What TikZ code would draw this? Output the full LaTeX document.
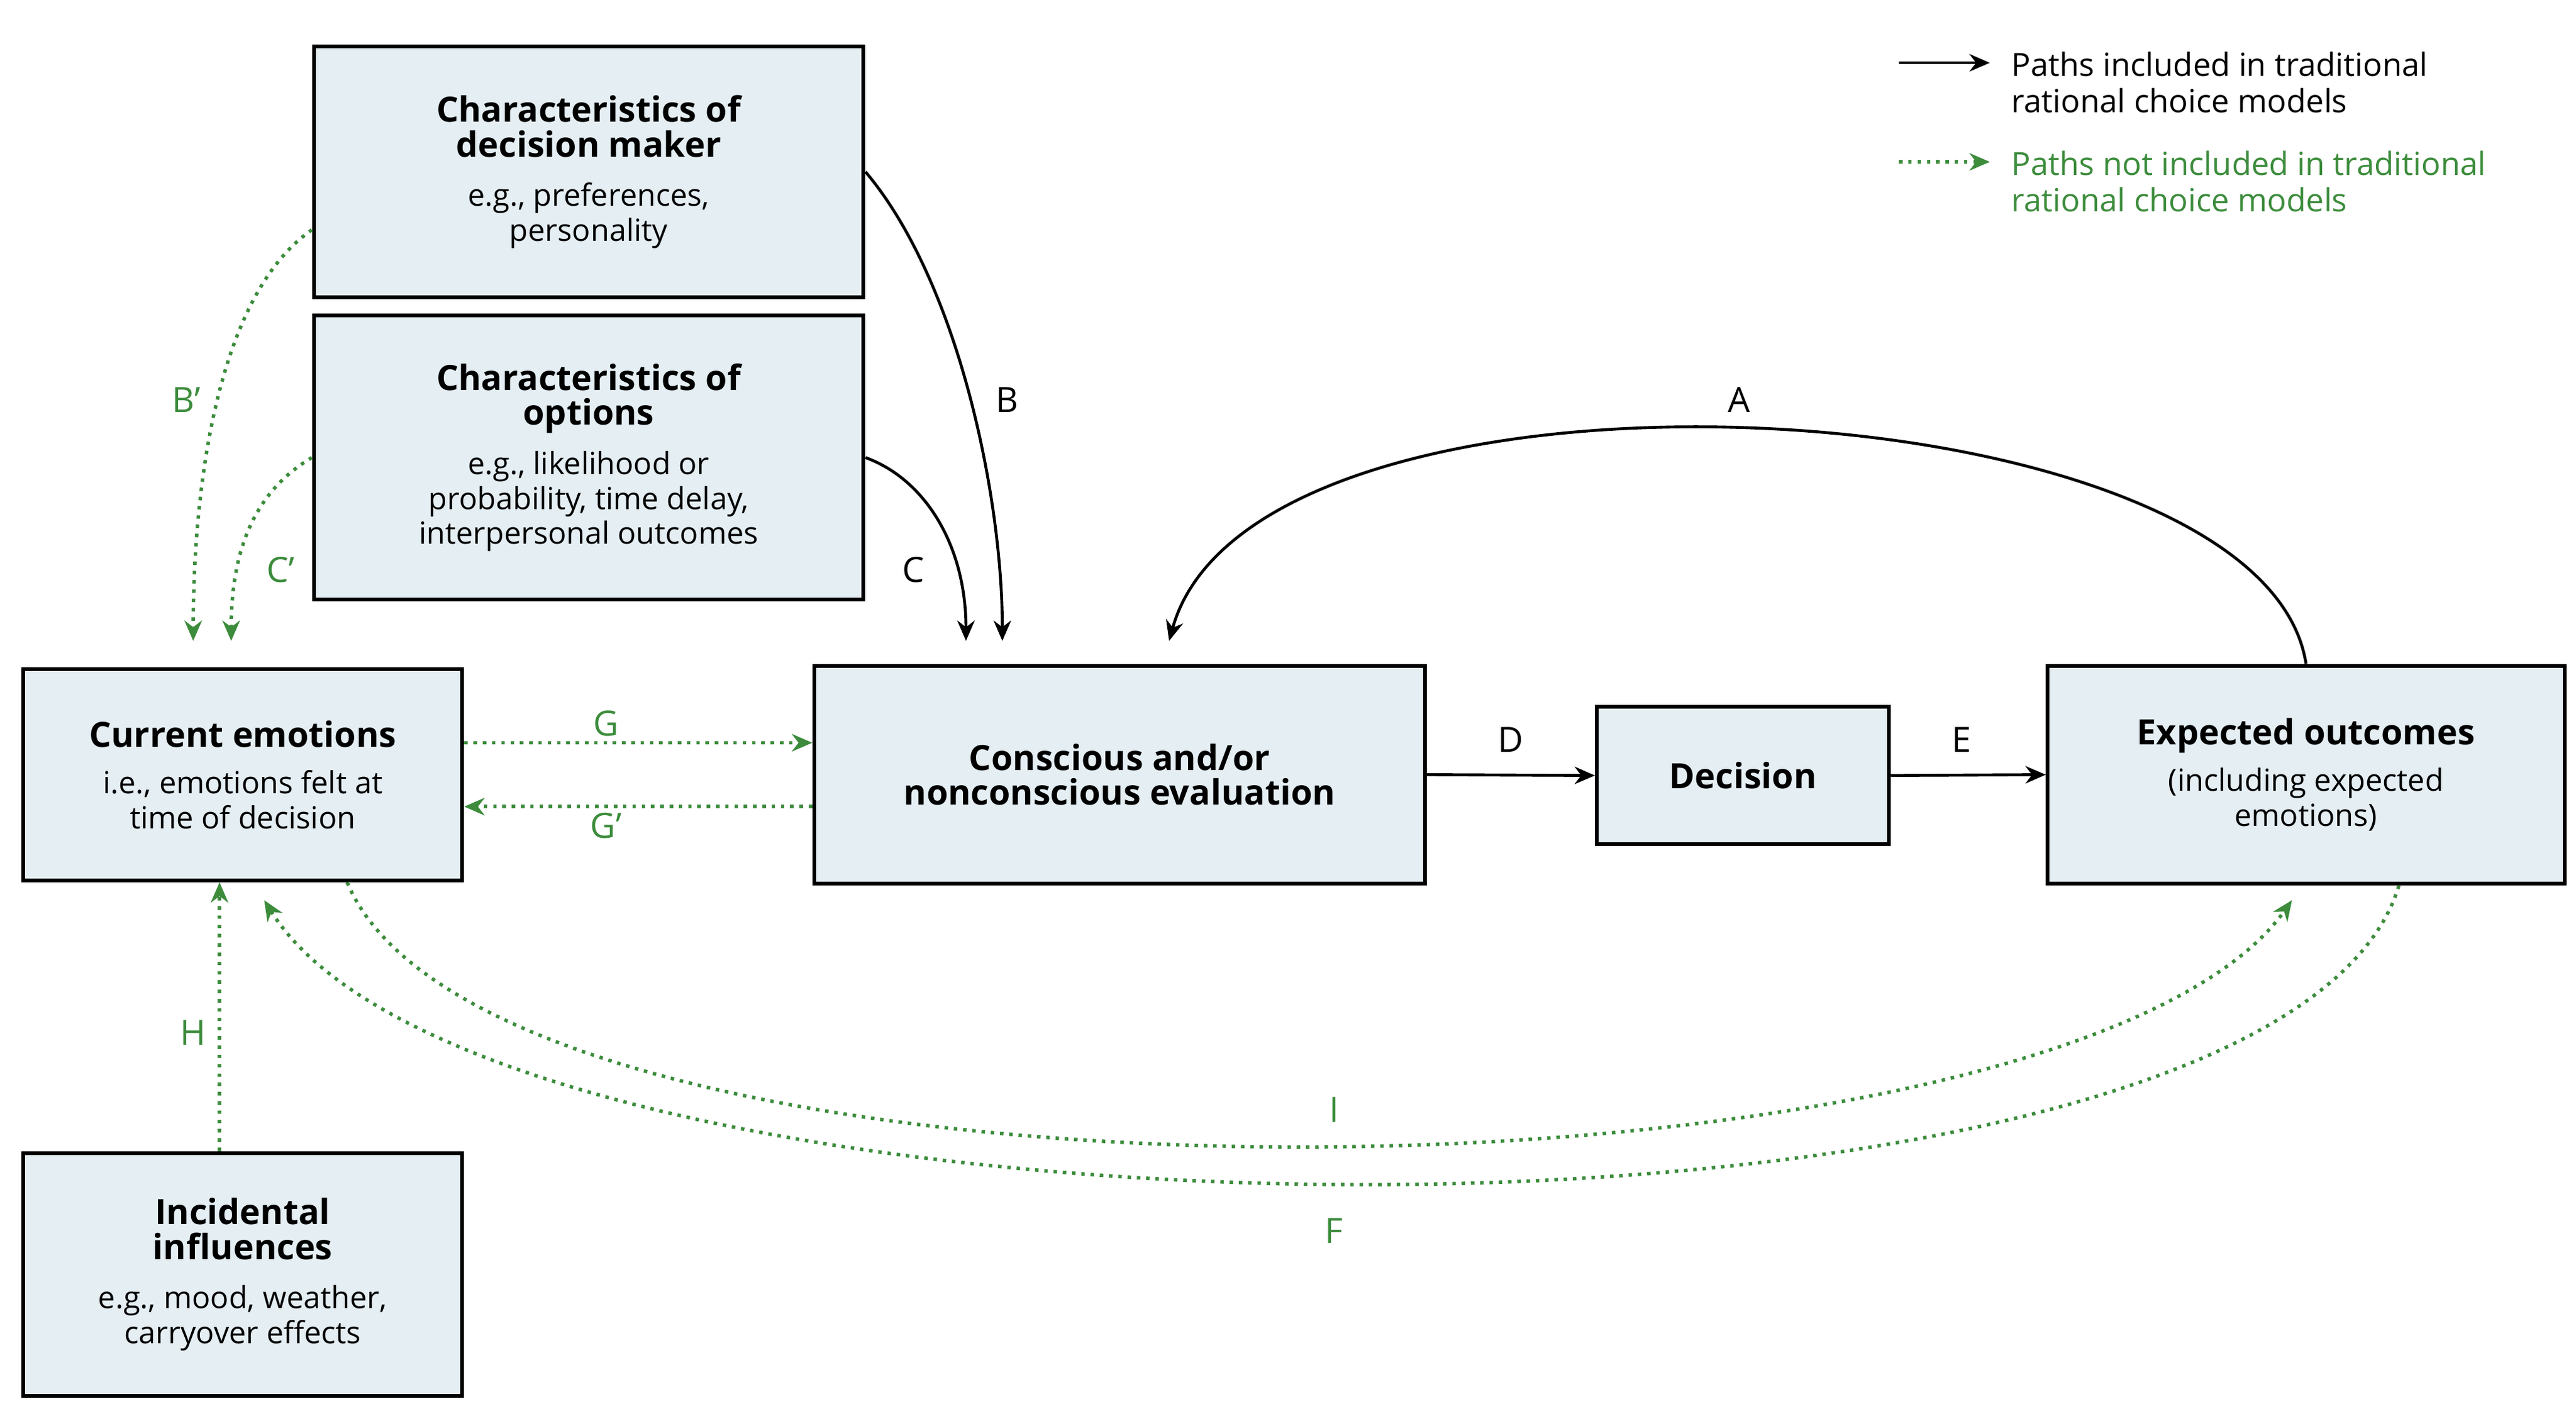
\documentclass[tikz,border=0pt]{standalone}
\usepackage{fontspec}
\setmainfont{Open Sans}
\usetikzlibrary{arrows.meta}
\definecolor{pathgreen}{HTML}{3C8C3C}
\definecolor{boxfill}{HTML}{E4EEF3}
\newcommand{\boxttl}{\fontsize{12}{14}\selectfont\bfseries}
\newcommand{\boxsub}{\fontsize{10.5}{12.5}\selectfont\mdseries}
\begin{document}
\begin{tikzpicture}[x=0.02cm,y=-0.02cm,
  box/.style={draw, line width=1.3pt, fill=boxfill, align=center, inner sep=2pt},
  rational/.style={-{Stealth[length=7pt,width=6pt]}, line width=1pt},
  other/.style={-{Stealth[length=7pt,width=6pt]}, line width=1.2pt, pathgreen, dotted},
  lbl/.style={font=\fontsize{12}{14}\selectfont},
  glbl/.style={lbl, text=pathgreen}]
\useasboundingbox (0,0) rectangle (1560,860);

%Boxes
\node[box, minimum width=6.66cm, minimum height=3.04cm] (maker) at (356.5,104)
  {\boxttl Characteristics of\\ \boxttl decision maker\\[5pt] \boxsub e.g., preferences,\\ \boxsub personality};
\node[box, minimum width=6.66cm, minimum height=3.44cm] (options) at (356.5,277)
  {\boxttl Characteristics of\\ \boxttl options\\[5pt] \boxsub e.g., likelihood or\\ \boxsub probability, time delay,\\ \boxsub interpersonal outcomes};
\node[box, minimum width=5.32cm, minimum height=2.56cm] (current) at (147,469)
  {\boxttl Current emotions\\[4pt] \boxsub i.e., emotions felt at\\ \boxsub time of decision};
\node[box, minimum width=7.4cm, minimum height=2.64cm] (eval) at (678,469)
  {\boxttl Conscious and/or\\ \boxttl nonconscious evaluation};
\node[box, minimum width=3.54cm, minimum height=1.66cm] (decision) at (1055.5,469.5)
  {\boxttl Decision};
\node[box, minimum width=6.26cm, minimum height=2.64cm] (expected) at (1396.5,469)
  {\boxttl Expected outcomes\\[4pt] \boxsub (including expected\\ \boxsub emotions)};
\node[box, minimum width=5.32cm, minimum height=2.94cm] (incidental) at (147,771.5)
  {\boxttl Incidental\\ \boxttl influences\\[5pt] \boxsub e.g., mood, weather,\\ \boxsub carryover effects};

%End points
\coordinate (bEnd) at (607,388);
\coordinate (cEnd) at (585,388);
\coordinate (aEnd) at (708,388);
\coordinate (bpEnd) at (117,388);
\coordinate (cpEnd) at (140,388);
\coordinate (iEnd) at (1388,545);
\coordinate (fEnd) at (160,545);

%Rational paths
\draw[rational] (maker.east) .. controls (580,170) and (607,300) .. (bEnd);
\draw[rational] (options.east) .. controls (560,290) and (585,330) .. (cEnd);
\draw[rational] (expected.north) .. controls (1370,230) and (760,200) .. (aEnd);
\draw[rational] (eval.east) -- (decision.west);
\draw[rational] (decision.east) -- (expected.west);

%Other paths
\draw[other] ([yshift=-20]maker.west) .. controls (130,180) and (117,300) .. (bpEnd);
\draw[other] (options.west) .. controls (150,300) and (140,340) .. (cpEnd);
\draw[other] ([yshift=11]current.east) -- ([yshift=11]eval.west);
\draw[other] ([yshift=-11]eval.west) -- ([yshift=-11]current.east);
\draw[other] ([xshift=-8]incidental.north) -- ([xshift=-8]current.south);
\draw[other] ([xshift=36]current.south) .. controls (300,750) and (1250,740) .. (iEnd);
\draw[other] ([xshift=32]expected.south) .. controls (1380,780) and (300,770) .. (fEnd);

%Labels
\node[lbl] (labA) at (1053,242) {A};
\node[lbl] (labB) at (610,242) {B};
\node[lbl] (labC) at (553,345) {C};
\node[lbl] (labD) at (915,448) {D};
\node[lbl] (labE) at (1188,448) {E};
\node[glbl] (labBp) at (113,242) {B'};
\node[glbl] (labCp) at (170,345) {C'};
\node[glbl] (labG) at (367,438) {G};
\node[glbl] (labGp) at (367,500) {G'};
\node[glbl] (labH) at (117,625) {H};
\node[glbl] (labI) at (808,672) {I};
\node[glbl] (labF) at (808,745) {F};

%Legend
\coordinate (legA) at (1150,38);
\coordinate (legB) at (1205,38);
\coordinate (legC) at (1150,98);
\coordinate (legD) at (1205,98);
\draw[rational] (legA) -- (legB);
\draw[other] (legC) -- (legD);
\node[anchor=west, align=left, font=\fontsize{11}{12.5}\selectfont] (legText) at (1212,50)
  {Paths included in traditional\\ rational choice models};
\node[anchor=west, align=left, text=pathgreen, font=\fontsize{11}{12.5}\selectfont] (legOther) at (1212,110)
  {Paths not included in traditional\\ rational choice models};
\end{tikzpicture}
\end{document}
